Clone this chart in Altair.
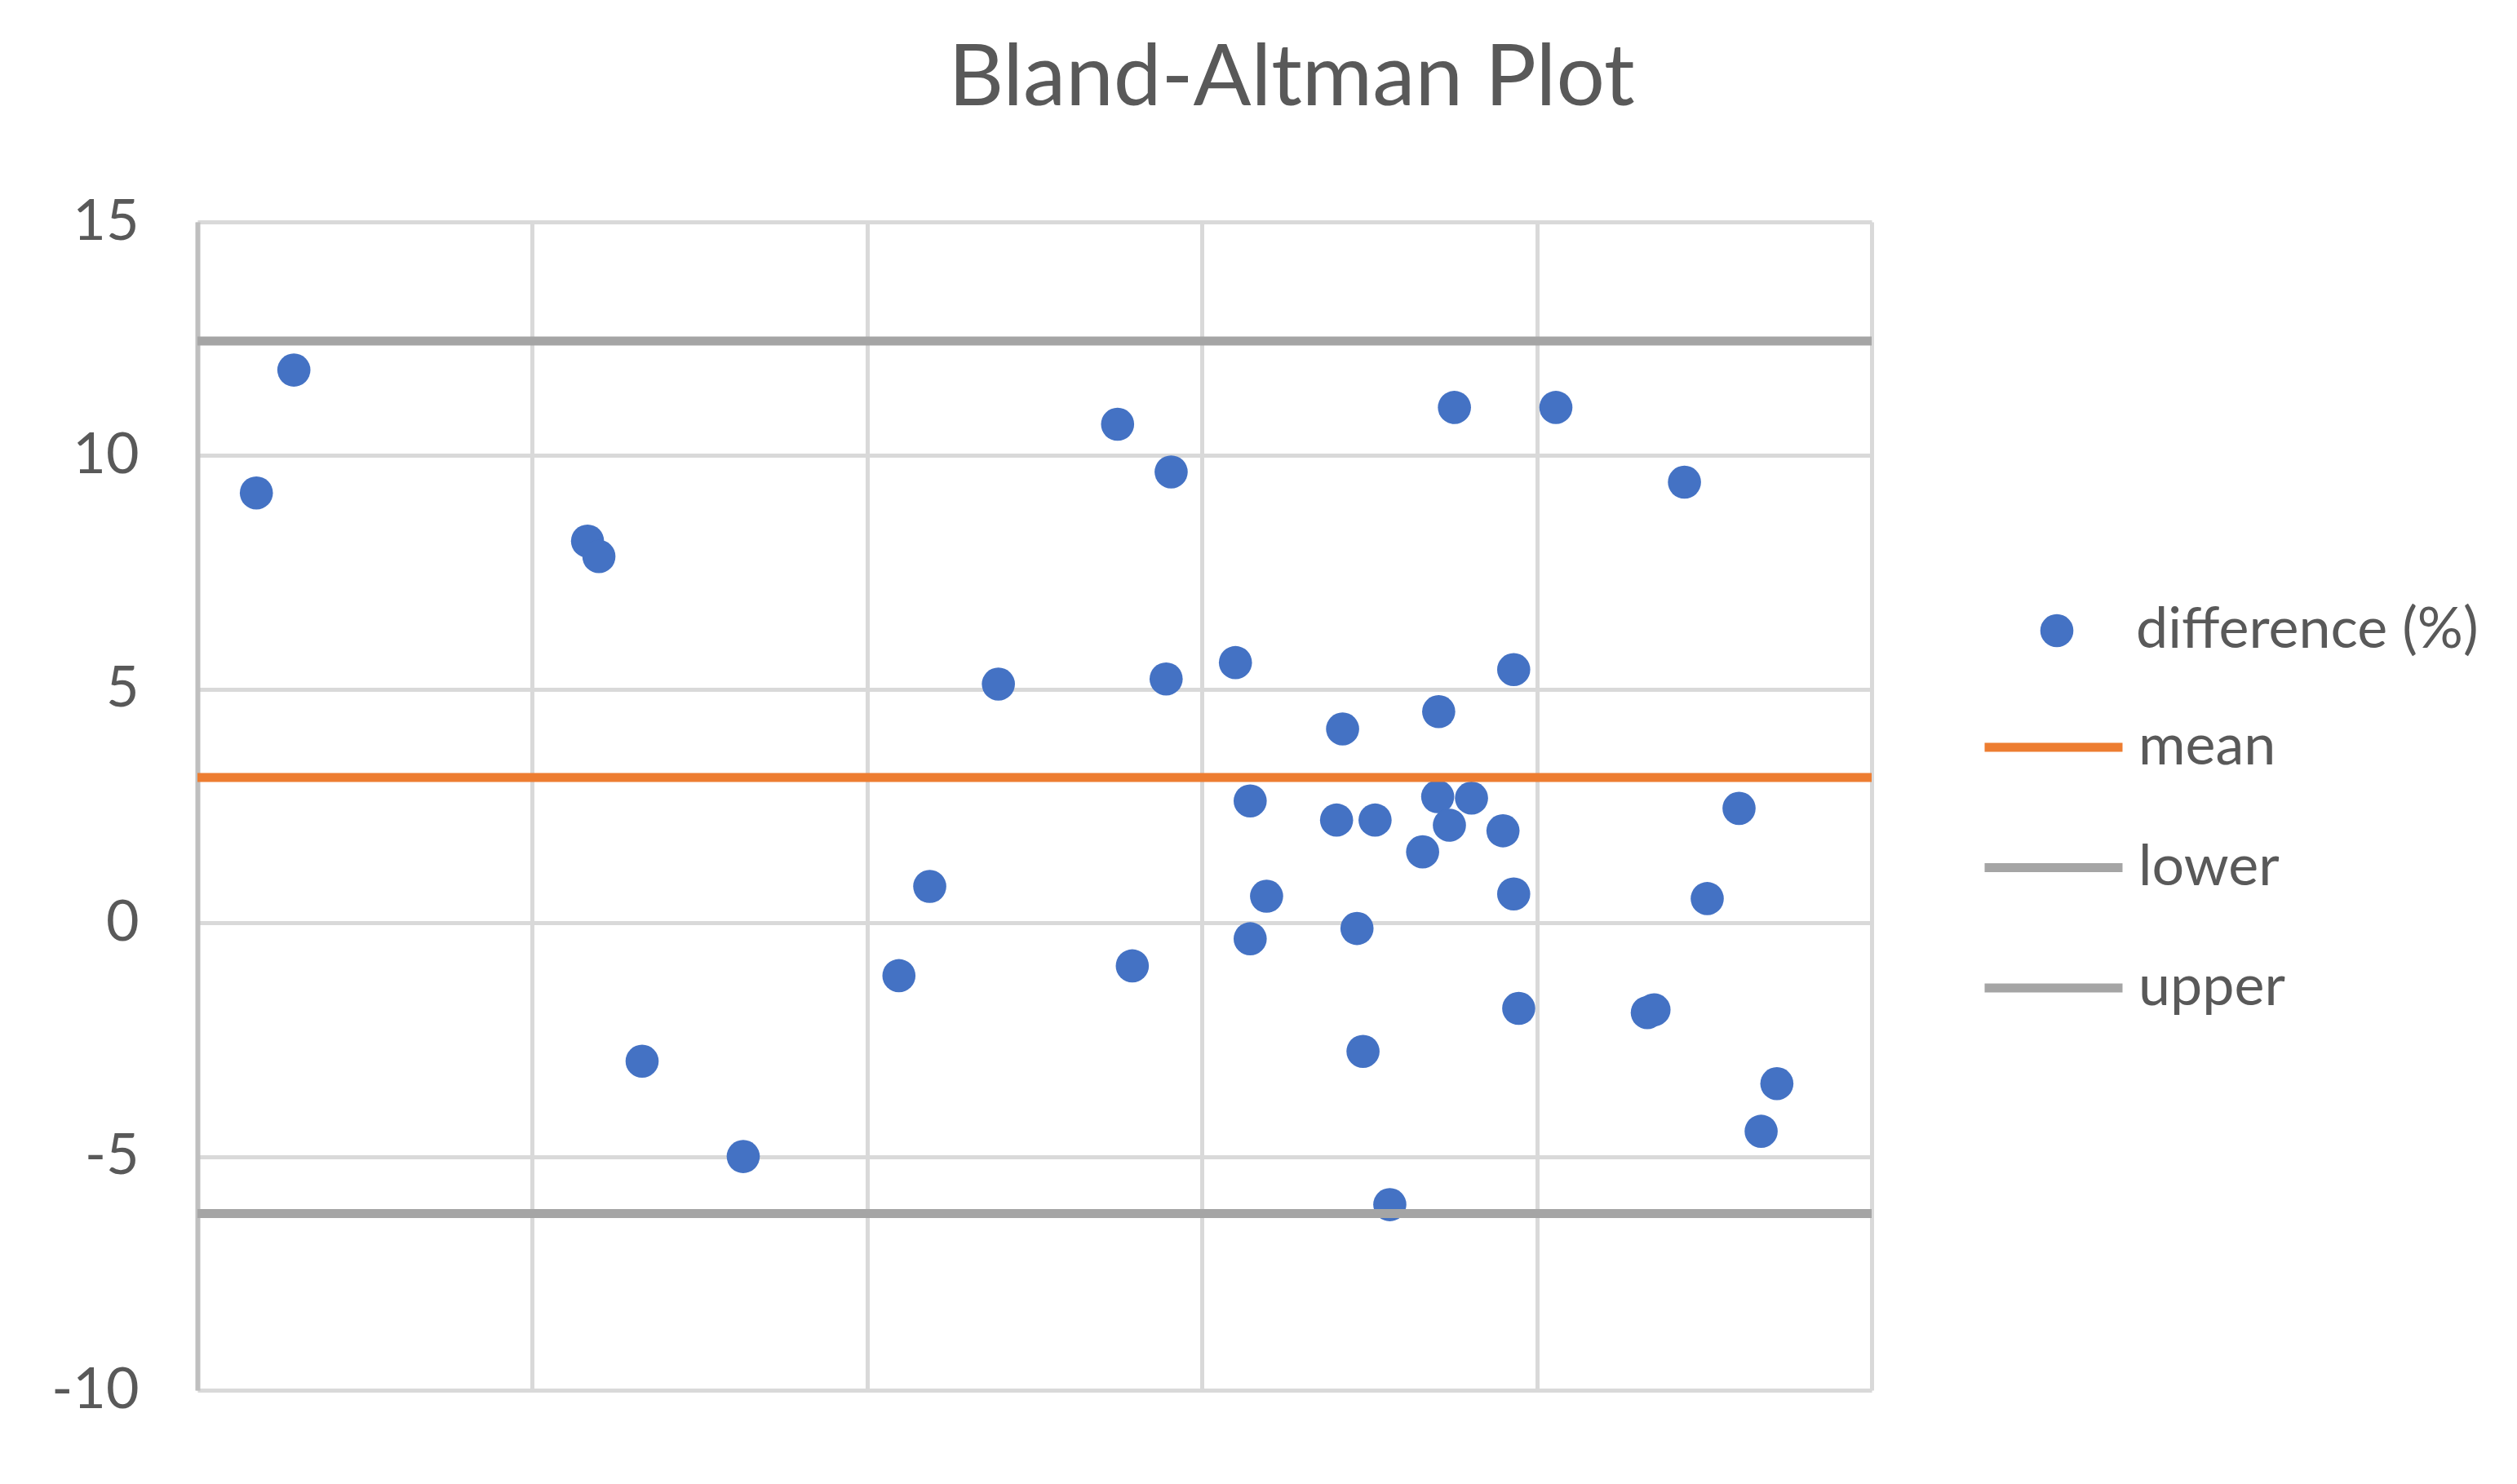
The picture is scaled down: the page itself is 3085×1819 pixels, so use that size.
import altair as alt
import pandas as pd

# ---- data ----
avg_x = [1.76, 2.88, 11.65, 11.99, 13.28, 16.30, 20.95, 21.87, 23.92, 27.48,
         29.08, 28.93, 27.92, 31.00, 31.44, 31.93, 31.44, 34.20, 34.02, 35.17,
         34.63, 34.81, 35.61, 36.59, 37.07, 37.04, 37.39, 38.05, 37.54, 38.99,
         39.31, 39.31, 39.46, 40.57, 43.30, 43.50, 44.41, 45.09, 46.04, 47.17,
         46.70]
diff_y = [9.20, 11.83, 8.17, 7.84, -2.96, -5.00, -1.13, 0.78, 5.11, 10.67,
          9.65, 5.22, -0.92, 5.57, 2.61, 0.57, -0.34, 4.15, 2.20, 2.20,
          -0.12, -2.75, -6.03, 1.52, 4.52, 2.70, 2.09, 2.67, 11.03, 1.97,
          5.42, 0.62, -1.83, 11.03, -1.92, -1.86, 9.43, 0.52, 2.45, -3.44,
          -4.46]
line_names = ["mean", "lower", "upper"]
line_values = [3.11, -6.22, 12.45]
line_colors = ["#ed7d31", "#a5a5a5", "#a5a5a5"]
y_ticks = [-10, -5, 0, 5, 10, 15]
x_grid = [0, 10, 20, 30, 40, 50]

pts = pd.DataFrame({"x": avg_x, "y": diff_y, "series": "difference (%)"})
lines = pd.DataFrame({"name": line_names, "value": line_values})

FONT = "Lato"
GREY = "#595959"

xscale = alt.Scale(domain=[0, 50], nice=False, zero=False)
yscale = alt.Scale(domain=[-10, 15], nice=False, zero=False)

points = alt.Chart(pts).mark_circle(size=1650, opacity=1).encode(
    x=alt.X("x:Q", scale=xscale,
            axis=alt.Axis(values=x_grid, labels=False, ticks=False, domain=False,
                          title=None, grid=True, gridColor="#d9d9d9", gridWidth=5)),
    y=alt.Y("y:Q", scale=yscale,
            axis=alt.Axis(values=y_ticks, ticks=False, title=None, grid=True,
                          gridColor="#d9d9d9", gridWidth=5, domain=True,
                          domainColor="#bfbfbf", domainWidth=6,
                          labelExpr="toString(datum.value)",
                          labelFontSize=70, labelFont=FONT, labelColor=GREY,
                          labelPadding=72)),
    color=alt.Color("series:N",
                    scale=alt.Scale(domain=["difference (%)"], range=["#4472c4"]),
                    legend=alt.Legend(title=None, orient="none", legendX=2244, legendY=466,
                                      symbolType="circle", symbolSize=1650,
                                      labelOffset=62, labelFontSize=70, labelFont=FONT,
                                      labelColor=GREY, labelLimit=0, symbolOpacity=1)),
)

rules = alt.Chart(lines).mark_rule(strokeWidth=11).encode(
    y=alt.Y("value:Q", scale=yscale),
    color=alt.Color("name:N",
                    scale=alt.Scale(domain=line_names, range=line_colors),
                    legend=alt.Legend(title=None, orient="none", legendX=2185, legendY=554,
                                      symbolType="stroke", symbolSize=169 * 169,
                                      symbolStrokeWidth=11, rowPadding=22.5,
                                      labelOffset=14, labelFontSize=70, labelFont=FONT,
                                      labelColor=GREY, labelLimit=0)),
)

chart = alt.layer(points, rules).resolve_scale(color="independent").properties(
    width=2052,
    height=1432,
    title=alt.TitleParams("Bland-Altman Plot", fontSize=105, font=FONT, color=GREY,
                          fontWeight="normal", anchor="middle", dx=315, offset=86),
    autosize=alt.AutoSizeParams(type="none"),
    padding={"left": 234, "top": 264, "right": 780, "bottom": 100},
).configure_view(strokeWidth=0).configure(background="white")

chart.save("out.html", embed_options={"renderer": "svg", "actions": False})
